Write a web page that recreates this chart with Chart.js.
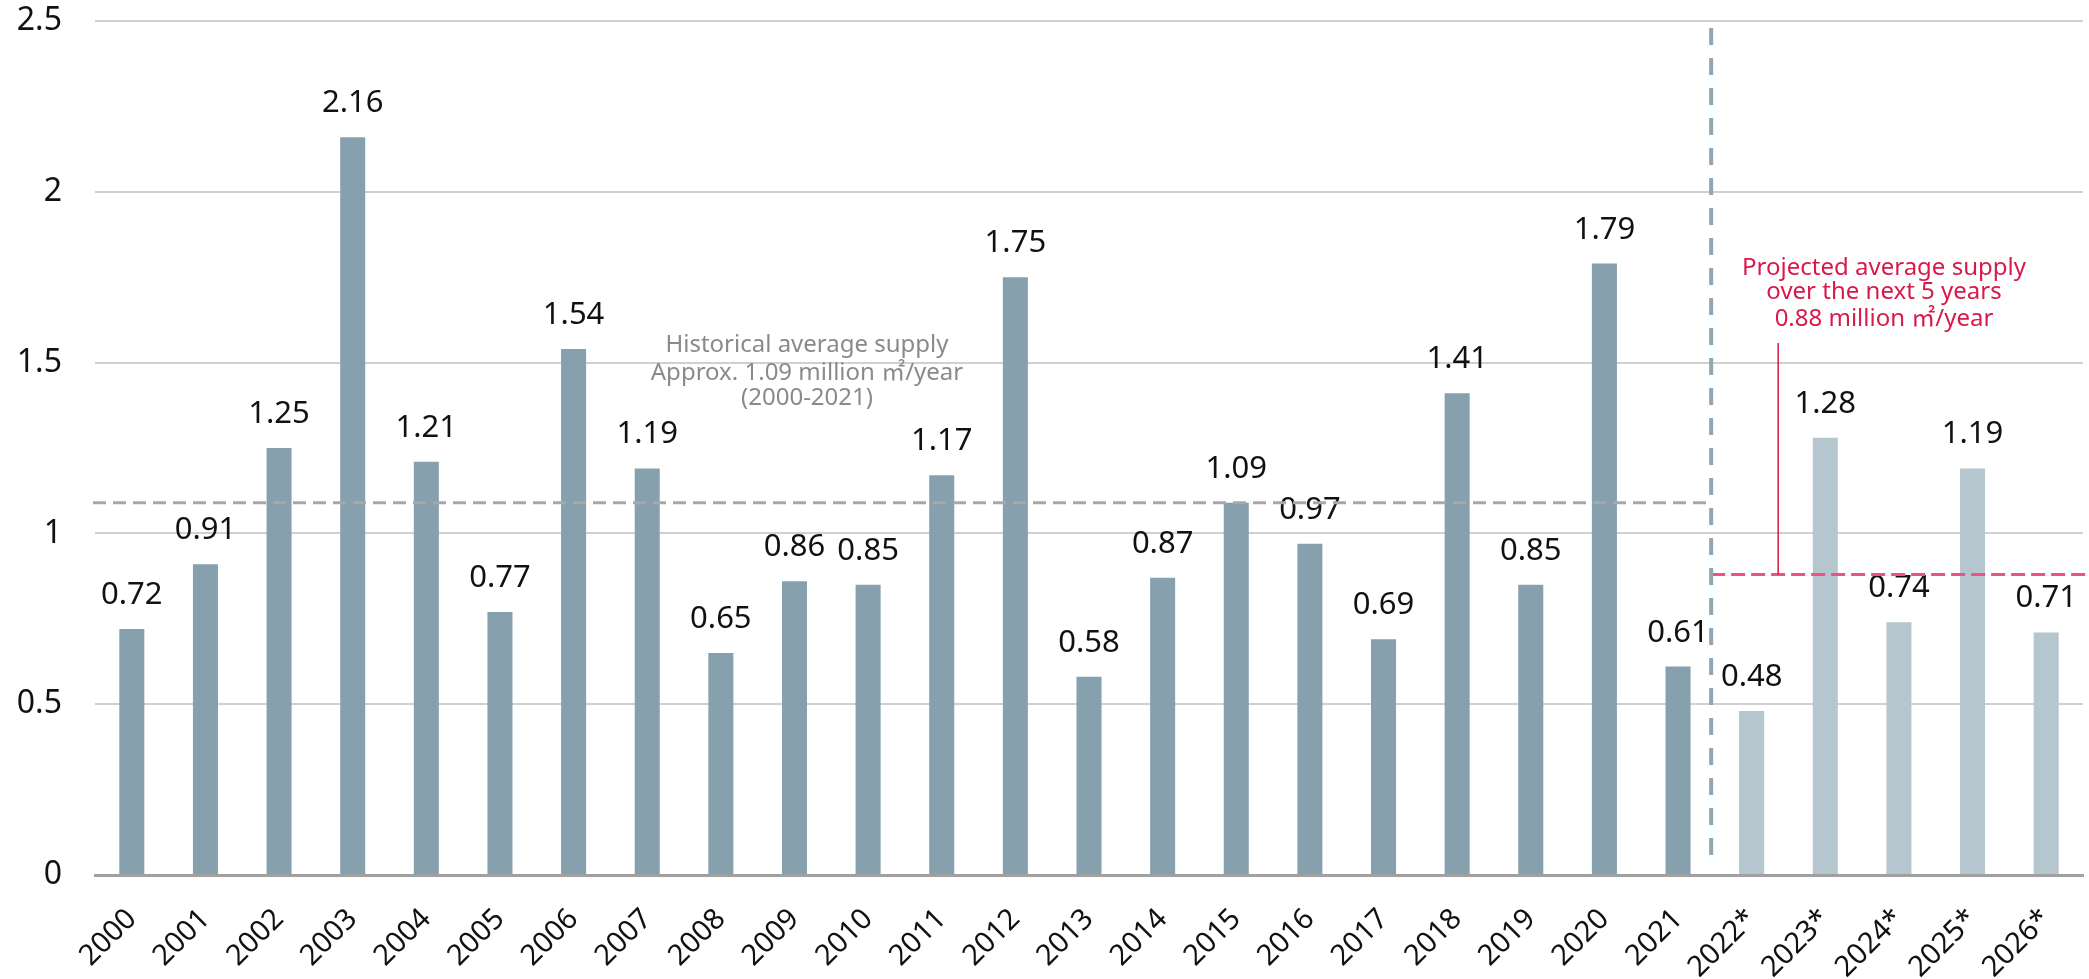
<!DOCTYPE html>
<html>
<head>
<meta charset="utf-8">
<script src="https://cdn.jsdelivr.net/npm/chart.js@4/dist/chart.umd.min.js"></script>
<style>
  html, body { margin: 0; padding: 0; background: #ffffff; }
  #wrap { width: 2089px; height: 979px; }
</style>
</head>
<body>
<div id="wrap"><canvas id="supply" width="2089" height="979"></canvas></div>
<script>
// Annual supply, million m² (starred years are projections)
const years = ['2000','2001','2002','2003','2004','2005','2006','2007','2008','2009','2010',
  '2011','2012','2013','2014','2015','2016','2017','2018','2019','2020','2021',
  '2022*','2023*','2024*','2025*','2026*'];
const supply = [0.72, 0.91, 1.25, 2.16, 1.21, 0.77, 1.54, 1.19, 0.65, 0.86, 0.85,
  1.17, 1.75, 0.58, 0.87, 1.09, 0.97, 0.69, 1.41, 0.85, 1.79, 0.61,
  0.48, 1.28, 0.74, 1.19, 0.71];
const firstProjected = 22;

const historicalAverage = 1.09;
const projectedAverage = 0.88;
const historicalNote = ['Historical average supply', 'Approx. 1.09 million ㎡/year', '(2000-2021)'];
const projectedNote = ['Projected average supply', 'over the next 5 years', '0.88 million ㎡/year'];

const yTicks = [0, 0.5, 1, 1.5, 2, 2.5];

const FONT = "'Noto Sans', 'Noto Sans CJK JP', sans-serif";
const HIST_COLOR = '#86a0ad';
const PROJ_COLOR = '#b5c6ce';
const RED = '#d7194b';
const PINK = '#ee5282';

const barColors = supply.map((v, i) => i >= firstProjected ? PROJ_COLOR : HIST_COLOR);

// Value labels above every bar
const valueLabels = {
  id: 'valueLabels',
  afterDatasetsDraw(chart) {
    const ctx = chart.ctx;
    const meta = chart.getDatasetMeta(0);
    ctx.save();
    ctx.font = '31px ' + FONT;
    ctx.fillStyle = '#111111';
    ctx.textAlign = 'center';
    ctx.textBaseline = 'alphabetic';
    meta.data.forEach((bar, i) => {
      ctx.fillText(supply[i].toFixed(2), bar.x, bar.y - 25);
    });
    ctx.restore();
  }
};

// Average lines, forecast divider and their notes
const averageMarks = {
  id: 'averageMarks',
  afterDatasetsDraw(chart) {
    const ctx = chart.ctx;
    const x = chart.scales.x;
    const y = chart.scales.y;
    const area = chart.chartArea;
    const p21 = x.getPixelForValue(firstProjected - 1);
    const p22 = x.getPixelForValue(firstProjected);
    const divX = p21 + 0.45 * (p22 - p21);

    ctx.save();
    // historical average (grey dashed)
    const yHist = y.getPixelForValue(historicalAverage);
    ctx.strokeStyle = '#a8a8a8';
    ctx.lineWidth = 3;
    ctx.setLineDash([13, 7]);
    ctx.beginPath();
    ctx.moveTo(area.left - 2, yHist);
    ctx.lineTo(divX, yHist);
    ctx.stroke();

    // projected average (pink dashed)
    const yProj = y.getPixelForValue(projectedAverage);
    ctx.strokeStyle = PINK;
    ctx.lineWidth = 3;
    ctx.setLineDash([14, 6]);
    ctx.beginPath();
    ctx.moveTo(divX, yProj);
    ctx.lineTo(chart.width, yProj);
    ctx.stroke();

    // forecast divider
    ctx.strokeStyle = '#8ea7b5';
    ctx.lineWidth = 4;
    ctx.setLineDash([17, 13]);
    ctx.beginPath();
    ctx.moveTo(divX, area.top + 7);
    ctx.lineTo(divX, area.bottom - 13);
    ctx.stroke();

    // leader from projected note to its line
    const leadX = divX + 67;
    ctx.setLineDash([]);
    ctx.strokeStyle = RED;
    ctx.lineWidth = 1.5;
    ctx.beginPath();
    ctx.moveTo(leadX, 343);
    ctx.lineTo(leadX, yProj);
    ctx.stroke();

    // notes
    ctx.font = '24px ' + FONT;
    ctx.textAlign = 'center';
    ctx.textBaseline = 'alphabetic';
    ctx.fillStyle = '#8a8a8a';
    const histX = 807;
    [352, 380, 405].forEach((by, i) => ctx.fillText(historicalNote[i], histX, by));
    ctx.fillStyle = RED;
    const projX = 1884;
    [275, 299, 326].forEach((by, i) => ctx.fillText(projectedNote[i], projX, by));
    ctx.restore();
  }
};

new Chart(document.getElementById('supply'), {
  type: 'bar',
  data: {
    labels: years,
    datasets: [{
      data: supply,
      backgroundColor: barColors,
      borderWidth: 0,
      categoryPercentage: 1,
      barPercentage: 0.34
    }]
  },
  options: {
    responsive: false,
    animation: false,
    devicePixelRatio: 1,
    layout: { padding: { top: 21, right: 6, left: 0, bottom: 0 } },
    plugins: { legend: { display: false }, tooltip: { enabled: false } },
    scales: {
      x: {
        grid: { display: false, drawTicks: false },
        border: { color: '#a0a0a0', width: 3 },
        ticks: {
          autoSkip: false,
          minRotation: 45,
          maxRotation: 45,
          padding: 27,
          color: '#111111',
          font: { family: FONT, size: 29 }
        },
        afterFit(scale) {
          scale.height = 104;
          scale.paddingLeft = 0;
          scale.paddingRight = 0;
        }
      },
      y: {
        min: 0,
        max: 2.5,
        afterBuildTicks(scale) { scale.ticks = yTicks.map(v => ({ value: v })); },
        grid: { color: '#d0d0d0', lineWidth: 2, drawTicks: false },
        border: { display: false },
        ticks: {
          padding: 33,
          color: '#111111',
          font: { family: FONT, size: 32 },
          callback: v => String(v)
        },
        afterFit(scale) {
          scale.width = 95;
          scale.paddingTop = 0;
          scale.paddingBottom = 0;
        }
      }
    }
  },
  plugins: [valueLabels, averageMarks]
});
</script>
</body>
</html>
